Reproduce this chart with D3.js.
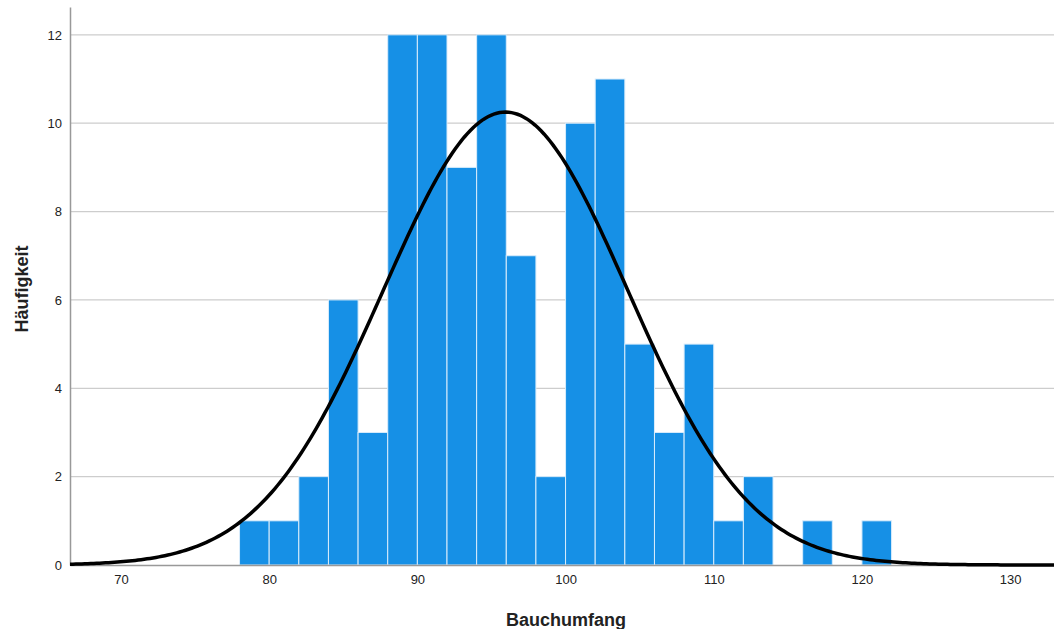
<!DOCTYPE html>
<html>
<head>
<meta charset="utf-8">
<script src="https://cdn.jsdelivr.net/npm/d3@7"></script>
<style>
body { margin: 0; background: #fff; }
text { font-family: "Liberation Sans", Arial, sans-serif; }
</style>
</head>
<body>
<div id="canvas"></div>
<script>
// histogram bins (lower edge, width 2) and counts
var binStarts = [78, 80, 82, 84, 86, 88, 90, 92, 94, 96, 98, 100, 102, 104, 106, 108, 110, 112, 114, 116, 118, 120];
var counts    = [1, 1, 2, 6, 3, 12, 12, 9, 12, 7, 2, 10, 11, 5, 3, 5, 1, 2, 0, 1, 0, 1];
var binWidth = 2;
var yTicks = [0, 2, 4, 6, 8, 10, 12];
var xTicks = [70, 80, 90, 100, 110, 120, 130];
// fitted normal curve parameters
var mean = 95.95;
var sd = 8.25;
var n = 106;

var width = 1054, height = 629;
var plotLeft = 70, plotRight = 1054, plotTop = 7, plotBottom = 565;

var svg = d3.select("#canvas")
	.append("svg")
	.attr("width", width)
	.attr("height", height);

var x = d3.scaleLinear().domain([66.56, 132.96]).range([plotLeft, plotRight]);
var y = d3.scaleLinear().domain([0, 12.63]).range([plotBottom, plotTop]);

// gridlines
svg.append("g")
	.selectAll("line")
	.data(yTicks.slice(1))
	.enter()
	.append("line")
	.attr("x1", plotLeft)
	.attr("x2", plotRight)
	.attr("y1", function(d){ return y(d); })
	.attr("y2", function(d){ return y(d); })
	.attr("stroke", "#cdcdcd")
	.attr("stroke-width", 1.2);

// bars
var bins = binStarts.map(function(s, i){ return {x0: s, x1: s + binWidth, c: counts[i]}; })
	.filter(function(d){ return d.c > 0; });

svg.append("g")
	.selectAll("rect")
	.data(bins)
	.enter()
	.append("rect")
	.attr("x", function(d){ return x(d.x0); })
	.attr("y", function(d){ return y(d.c); })
	.attr("width", function(d){ return x(d.x1) - x(d.x0); })
	.attr("height", function(d){ return y(0) - y(d.c); })
	.attr("fill", "#1690e6")
	.attr("stroke", "#d9ecfb")
	.attr("stroke-width", 1);

// axes
var yAxis = d3.axisLeft(y).tickValues(yTicks).tickSize(0).tickPadding(8);
var gy = svg.append("g").attr("transform", "translate(" + plotLeft + ",0)").call(yAxis);
gy.select(".domain").attr("stroke", "#999").attr("stroke-width", 1.5);
gy.selectAll("text").attr("font-size", 13).attr("fill", "#222");

var xAxis = d3.axisBottom(x).tickValues(xTicks).tickSize(0).tickPadding(10);
var gx = svg.append("g").attr("transform", "translate(0," + plotBottom + ")").call(xAxis);
gx.select(".domain").attr("stroke", "#999").attr("stroke-width", 1.5);
gx.selectAll("text").attr("font-size", 13).attr("fill", "#222");

// normal curve
var pts = d3.range(x.domain()[0], x.domain()[1] + 0.01, 0.2);
var line = d3.line()
	.x(function(d){ return x(d); })
	.y(function(d){
		var z = (d - mean) / sd;
		return y(n * binWidth / (sd * Math.sqrt(2 * Math.PI)) * Math.exp(-0.5 * z * z));
	});
svg.append("path")
	.datum(pts)
	.attr("d", line)
	.attr("fill", "none")
	.attr("stroke", "#000")
	.attr("stroke-width", 3.5);

// axis titles
svg.append("text")
	.text("Bauchumfang")
	.attr("x", 566)
	.attr("y", 626)
	.attr("text-anchor", "middle")
	.attr("font-size", 18)
	.attr("font-weight", "bold")
	.attr("fill", "#222");

svg.append("text")
	.text("Häufigkeit")
	.attr("transform", "translate(28,289) rotate(-90)")
	.attr("text-anchor", "middle")
	.attr("font-size", 18)
	.attr("font-weight", "bold")
	.attr("fill", "#222");
</script>
</body>
</html>
